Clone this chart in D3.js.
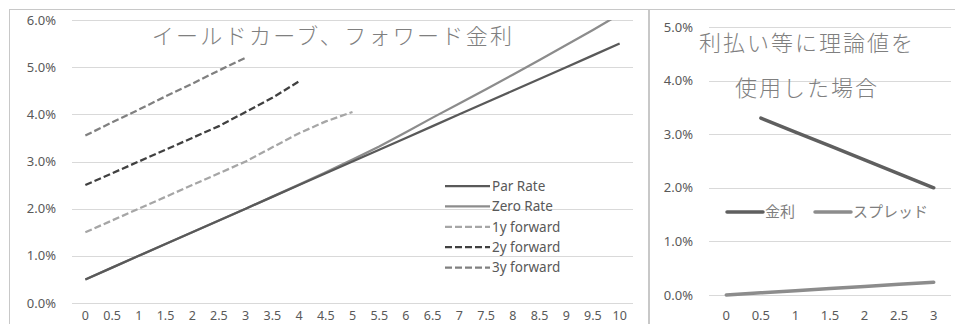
<!DOCTYPE html>
<html><head><meta charset="utf-8">
<script src="https://cdn.jsdelivr.net/npm/d3@7"></script>
<style>
html,body{margin:0;padding:0;background:#fff;}
svg{display:block;font-family:"Noto Sans","Noto Sans CJK JP",sans-serif;}
</style></head><body>
<svg id="c" width="955" height="324"></svg>
<script>
// ---------- Left chart data ----------
const maturities = [0,0.5,1,1.5,2,2.5,3,3.5,4,4.5,5,5.5,6,6.5,7,7.5,8,8.5,9,9.5,10];
const parRate  = [0.5,0.75,1.0,1.25,1.5,1.75,2.0,2.25,2.5,2.75,3.0,3.25,3.5,3.75,4.0,4.25,4.5,4.75,5.0,5.25,5.5];
const zeroRate = [0.5,0.75,1.0,1.25,1.5,1.75,2.0,2.255,2.51,2.77,3.04,3.32,3.62,3.93,4.23,4.53,4.84,5.15,5.47,5.79,6.12];
const fwd1y = [1.5,1.75,2.0,2.25,2.5,2.75,3.0,3.3,3.6,3.85,4.05];
const fwd2y = [2.5,2.75,3.0,3.25,3.5,3.75,4.05,4.35,4.7];
const fwd3y = [3.55,3.83,4.1,4.38,4.65,4.93,5.2];
const leftTicks = [0,1,2,3,4,5,6];
const leftTitle = "イールドカーブ、フォワード金利";
const leftNames = ["Par Rate","Zero Rate","1y forward","2y forward","3y forward"];

// ---------- Right chart data ----------
const periods = [0,0.5,1,1.5,2,2.5,3];
const kinri   = [null,3.3,3.04,2.78,2.52,2.26,2.0];
const spread  = [0,0.04,0.08,0.12,0.16,0.2,0.24];
const rightTicks = [0,1,2,3,4,5];
const rightTitle = ["利払い等に理論値を","使用した場合"];
const rightNames = ["金利","スプレッド"];

const svg = d3.select("#c");
const grid = "#d9d9d9", txt = "#595959";
const fmt = d => d.toFixed(1) + "%";

// chart frames
svg.append("rect").attr("x",9.5).attr("y",9.5).attr("width",639).attr("height",330)
  .attr("fill","none").attr("stroke","#c8c8c8");
svg.append("rect").attr("x",649.5).attr("y",9.5).attr("width",330).attr("height",330)
  .attr("fill","none").attr("stroke","#c8c8c8");

// ===== Left chart =====
{
  const x = d3.scalePoint().domain(maturities).range([72,633]).padding(0.5);
  const y = d3.scaleLinear().domain([0,6]).range([303,20]);
  const g = svg.append("g");
  g.selectAll(".gl").data(leftTicks).join("line")
    .attr("x1",72).attr("x2",633).attr("y1",d=>Math.round(y(d))+0.5).attr("y2",d=>Math.round(y(d))+0.5)
    .attr("stroke",grid).attr("stroke-width",1);
  g.selectAll(".yl").data(leftTicks).join("text")
    .attr("x",56).attr("y",d=>y(d)).attr("dy","0.35em").attr("text-anchor","end")
    .attr("font-size",13).attr("fill",txt).text(fmt);
  g.selectAll(".xl").data(maturities).join("text")
    .attr("x",d=>x(d)).attr("y",320).attr("text-anchor","middle")
    .attr("font-size",12.5).attr("fill",txt).text(d=>d);
  // title
  g.append("text").attr("x",333).attr("y",44).attr("text-anchor","middle")
    .attr("font-family","'Noto Sans CJK JP',sans-serif").attr("font-weight",300)
    .attr("font-size",22).attr("letter-spacing",2.3).attr("fill","#7f7f7f").text(leftTitle);

  const clip = svg.append("clipPath").attr("id","lc").append("rect")
    .attr("x",72).attr("y",20).attr("width",561).attr("height",290);
  const series = [
    {name:leftNames[0], vals:parRate,  color:"#595959", dash:null},
    {name:leftNames[1], vals:zeroRate, color:"#8c8c8c", dash:null},
    {name:leftNames[2], vals:fwd1y,    color:"#a6a6a6", dash:"7,3"},
    {name:leftNames[3], vals:fwd2y,    color:"#404040", dash:"7,3"},
    {name:leftNames[4], vals:fwd3y,    color:"#808080", dash:"7,3"}
  ];
  const line = d3.line().x((d,i)=>x(maturities[i])).y(d=>y(d));
  const lg = g.append("g").attr("clip-path","url(#lc)");
  [2,3,4,1,0].forEach(k=>{
    const s = series[k];
    lg.append("path").attr("d",line(s.vals)).attr("fill","none")
      .attr("stroke",s.color).attr("stroke-width",2.25)
      .attr("stroke-dasharray",s.dash);
  });
  const leg = g.append("g");
  series.forEach((s,i)=>{
    const yy = 186 + i*20.4;
    leg.append("line").attr("x1",445).attr("x2",490).attr("y1",yy).attr("y2",yy)
      .attr("stroke",s.color).attr("stroke-width",2.25).attr("stroke-dasharray",s.dash);
    leg.append("text").attr("x",492).attr("y",yy).attr("dy","0.35em")
      .attr("font-size",13.5).attr("fill",txt).text(s.name);
  });
}

// ===== Right chart =====
{
  const x = d3.scalePoint().domain(periods).range([709,951]).padding(0.5);
  const y = d3.scaleLinear().domain([0,5]).range([295,27]);
  const g = svg.append("g");
  g.selectAll(".gl").data(rightTicks).join("line")
    .attr("x1",709).attr("x2",951).attr("y1",d=>Math.round(y(d))+0.5).attr("y2",d=>Math.round(y(d))+0.5)
    .attr("stroke",grid).attr("stroke-width",1);
  g.selectAll(".yl").data(rightTicks).join("text")
    .attr("x",693).attr("y",d=>y(d)).attr("dy","0.35em").attr("text-anchor","end")
    .attr("font-size",13).attr("fill",txt).text(fmt);
  g.selectAll(".xl").data(periods).join("text")
    .attr("x",d=>x(d)).attr("y",320).attr("text-anchor","middle")
    .attr("font-size",13).attr("fill",txt).text(d=>d);
  rightTitle.forEach((t,i)=>{
    g.append("text").attr("x",807).attr("y",51+i*45).attr("text-anchor","middle")
      .attr("font-family","'Noto Sans CJK JP',sans-serif").attr("font-weight",300)
      .attr("font-size",22).attr("letter-spacing",2).attr("fill","#7f7f7f").text(t);
  });
  const line = d3.line().defined(d=>d!=null).x((d,i)=>x(periods[i])).y(d=>y(d));
  const series = [
    {name:rightNames[0], vals:kinri,  color:"#5f5f5f", w:3.5},
    {name:rightNames[1], vals:spread, color:"#8c8c8c", w:3.5}
  ];
  series.forEach(s=>{
    g.append("path").attr("d",line(s.vals)).attr("fill","none")
      .attr("stroke",s.color).attr("stroke-width",s.w).attr("stroke-linecap","round");
  });
  const lx = [727,815];
  series.forEach((s,i)=>{
    g.append("line").attr("x1",lx[i]).attr("x2",lx[i]+36).attr("y1",212).attr("y2",212)
      .attr("stroke",s.color).attr("stroke-width",s.w).attr("stroke-linecap","round");
    g.append("text").attr("x",lx[i]+38).attr("y",212).attr("dy","0.35em")
      .attr("font-family","'Noto Sans CJK JP',sans-serif")
      .attr("font-size",15).attr("fill","#7f7f7f").text(s.name);
  });
}
</script>
</body></html>
